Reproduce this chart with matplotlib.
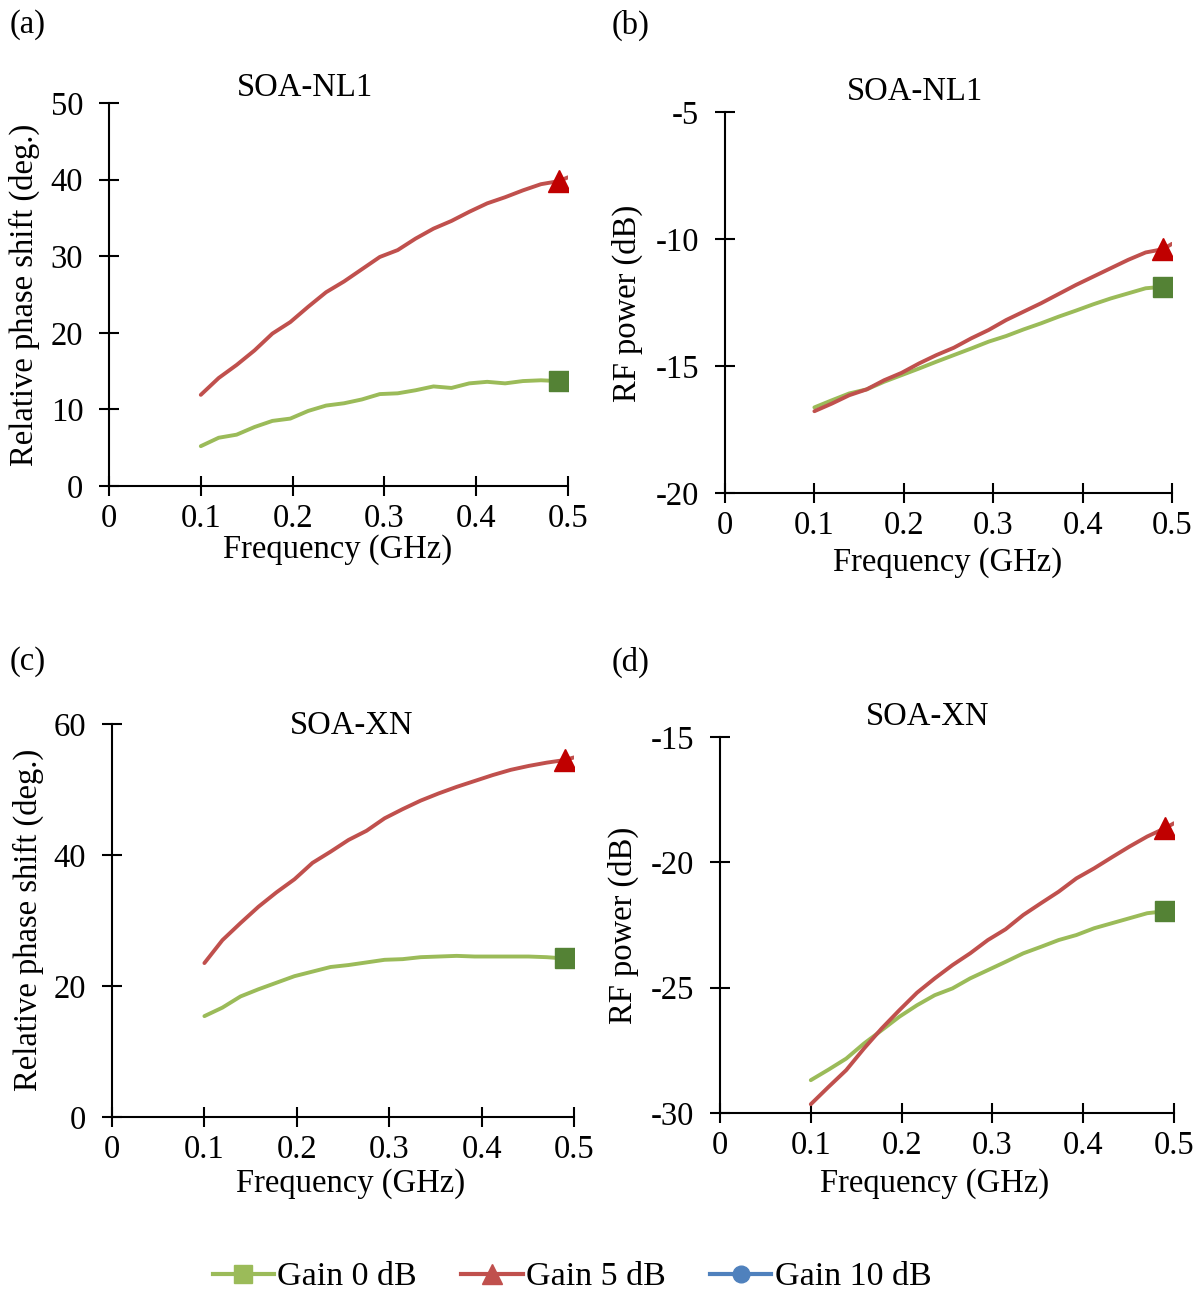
import matplotlib
matplotlib.use("Agg")
import matplotlib.pyplot as plt
from matplotlib.lines import Line2D

# ---------------- data ----------------
FREQ = [0.1, 0.1195, 0.139, 0.1585, 0.178, 0.1975, 0.217, 0.2365, 0.256, 0.2755, 0.295,
        0.3145, 0.334, 0.3535, 0.373, 0.3925, 0.412, 0.4315, 0.451, 0.4705, 0.49, 0.5]
MARK_IDX = 20

a_gain5 = [11.9, 14.1, 15.8, 17.7, 19.9, 21.4, 23.4, 25.3, 26.7, 28.3, 29.9,
           30.8, 32.3, 33.6, 34.6, 35.8, 36.9, 37.7, 38.6, 39.4, 39.8, 40.3]
a_gain0 = [5.2, 6.3, 6.7, 7.7, 8.5, 8.8, 9.8, 10.5, 10.8, 11.3, 12.0,
           12.1, 12.5, 13.0, 12.8, 13.4, 13.6, 13.4, 13.7, 13.8, 13.7, 13.7]

b_gain5 = [-16.78, -16.48, -16.15, -15.92, -15.56, -15.27, -14.90, -14.57, -14.28, -13.91, -13.58,
           -13.19, -12.86, -12.53, -12.17, -11.81, -11.48, -11.15, -10.82, -10.53, -10.40, -10.19]
b_gain0 = [-16.63, -16.35, -16.08, -15.92, -15.62, -15.36, -15.10, -14.83, -14.57, -14.31, -14.04,
           -13.82, -13.56, -13.32, -13.06, -12.82, -12.57, -12.34, -12.14, -11.94, -11.88, -11.78]

c_gain5 = [23.5, 27.0, 29.6, 32.1, 34.3, 36.3, 38.8, 40.5, 42.3, 43.7, 45.6,
           47.0, 48.3, 49.4, 50.4, 51.3, 52.2, 53.0, 53.6, 54.1, 54.5, 54.9]
c_gain0 = [15.4, 16.7, 18.4, 19.5, 20.5, 21.5, 22.2, 22.9, 23.2, 23.6, 24.0,
           24.1, 24.4, 24.5, 24.6, 24.5, 24.5, 24.5, 24.5, 24.4, 24.2, 24.0]

d_gain5 = [-29.65, -28.96, -28.29, -27.43, -26.63, -25.90, -25.20, -24.63, -24.10, -23.63, -23.10,
           -22.67, -22.10, -21.63, -21.17, -20.64, -20.24, -19.80, -19.37, -18.97, -18.64, -18.44]
d_gain0 = [-28.69, -28.27, -27.83, -27.23, -26.70, -26.16, -25.70, -25.30, -25.03, -24.63, -24.30,
           -23.97, -23.63, -23.37, -23.10, -22.90, -22.63, -22.43, -22.23, -22.03, -21.95, -21.79]

X_TICKS = [0, 0.1, 0.2, 0.3, 0.4, 0.5]
X_TICKLABELS = ["0", "0.1", "0.2", "0.3", "0.4", "0.5"]
A_YTICKS = [0, 10, 20, 30, 40, 50]
B_YTICKS = [-20, -15, -10, -5]
C_YTICKS = [0, 20, 40, 60]
D_YTICKS = [-30, -25, -20, -15]

LEGEND_LABELS = ["Gain 0 dB", "Gain 5 dB", "Gain 10 dB"]
PANEL_LABELS = ["(a)", "(b)", "(c)", "(d)"]
TITLES = ["SOA-NL1", "SOA-NL1", "SOA-XN", "SOA-XN"]
YLABELS = ["Relative phase shift (deg.)", "RF power (dB)",
           "Relative phase shift (deg.)", "RF power (dB)"]
XLABEL = "Frequency (GHz)"

# ---------------- style ----------------
plt.rcParams['font.family'] = ['Liberation Serif', 'DejaVu Serif']
FS = 23.5
W, H = 1195, 1290
RED_LINE, GREEN_LINE, BLUE_LINE = '#C0504D', '#9BBB59', '#4F81BD'
RED_MARK, GREEN_MARK = '#C00000', '#548235'

fig = plt.figure(figsize=(W / 100, H / 100), dpi=100)


def add_ax(l, r, t, b):
    return fig.add_axes([l / W, 1 - b / H, (r - l) / W, (b - t) / H])


def fx(x):
    return x / W


def fy(y):
    return 1 - y / H


panels = [
    dict(box=(109, 568, 103, 486), ylim=(0, 50), yt=A_YTICKS, g0=a_gain0, g5=a_gain5,
         lab=(10, 25), title=(305, 88), ylab=(24, 295), xlab=(338, 550)),
    dict(box=(725, 1172, 112, 493), ylim=(-20, -5), yt=B_YTICKS, g0=b_gain0, g5=b_gain5,
         lab=(612, 25), title=(915, 92), ylab=(627, 303), xlab=(948, 563)),
    dict(box=(112, 574, 724, 1117), ylim=(0, 60), yt=C_YTICKS, g0=c_gain0, g5=c_gain5,
         lab=(10, 662), title=(352, 726), ylab=(28, 920), xlab=(351, 1184)),
    dict(box=(720, 1174, 737, 1113), ylim=(-30, -15), yt=D_YTICKS, g0=d_gain0, g5=d_gain5,
         lab=(612, 662), title=(928, 717), ylab=(623, 925), xlab=(935, 1184)),
]

for i, p in enumerate(panels):
    ax = add_ax(*p['box'])
    ax.plot(FREQ, p['g0'], color=GREEN_LINE, lw=2.8, solid_capstyle='round', zorder=3)
    ax.plot(FREQ, p['g5'], color=RED_LINE, lw=2.8, solid_capstyle='round', zorder=3)
    ax.plot(FREQ, p['g0'], ls='none', marker='s', markersize=15, markevery=[MARK_IDX],
            color=GREEN_MARK, markeredgecolor=GREEN_MARK, zorder=4)
    ax.plot(FREQ, p['g5'], ls='none', marker='^', markersize=16, markevery=[MARK_IDX],
            color=RED_MARK, markeredgecolor=RED_MARK, zorder=4)
    ax.set_xlim(0, 0.5)
    ax.set_ylim(*p['ylim'])
    ax.set_xticks(X_TICKS)
    ax.set_xticklabels(X_TICKLABELS)
    ax.set_yticks(p['yt'])
    ax.set_yticklabels([str(v) for v in p['yt']])
    for s in ['top', 'right']:
        ax.spines[s].set_visible(False)
    for s in ['left', 'bottom']:
        ax.spines[s].set_linewidth(1.5)
        ax.spines[s].set_color('black')
    ax.tick_params(axis='both', direction='inout', length=15, width=1.5, labelsize=FS)
    ax.tick_params(axis='x', pad=5)
    ax.tick_params(axis='y', pad=11)
    for c in ax.spines.values():
        c.set_clip_on(False)
    ax.patch.set_visible(False)

    fig.text(fx(p['lab'][0]), fy(p['lab'][1]), PANEL_LABELS[i], fontsize=FS,
             ha='left', va='center')
    fig.text(fx(p['title'][0]), fy(p['title'][1]), TITLES[i], fontsize=FS,
             ha='center', va='center')
    fig.text(fx(p['ylab'][0]), fy(p['ylab'][1]), YLABELS[i], fontsize=FS,
             ha='center', va='center', rotation=90)
    fig.text(fx(p['xlab'][0]), fy(p['xlab'][1]), XLABEL, fontsize=FS,
             ha='center', va='center')

handles = [
    Line2D([], [], color=GREEN_LINE, lw=3, marker='s', markersize=13,
           markerfacecolor=GREEN_LINE, markeredgecolor=GREEN_LINE),
    Line2D([], [], color=RED_LINE, lw=3, marker='^', markersize=14,
           markerfacecolor=RED_LINE, markeredgecolor=RED_LINE),
    Line2D([], [], color=BLUE_LINE, lw=3, marker='o', markersize=12,
           markerfacecolor=BLUE_LINE, markeredgecolor=BLUE_LINE),
]
fig.legend(handles, LEGEND_LABELS, loc='center', bbox_to_anchor=(fx(572), fy(1277)),
           ncol=3, frameon=False, fontsize=24.5, handlelength=1.8, handletextpad=0.1,
           columnspacing=1.3, numpoints=1)

fig.savefig("out.png", dpi=100)
